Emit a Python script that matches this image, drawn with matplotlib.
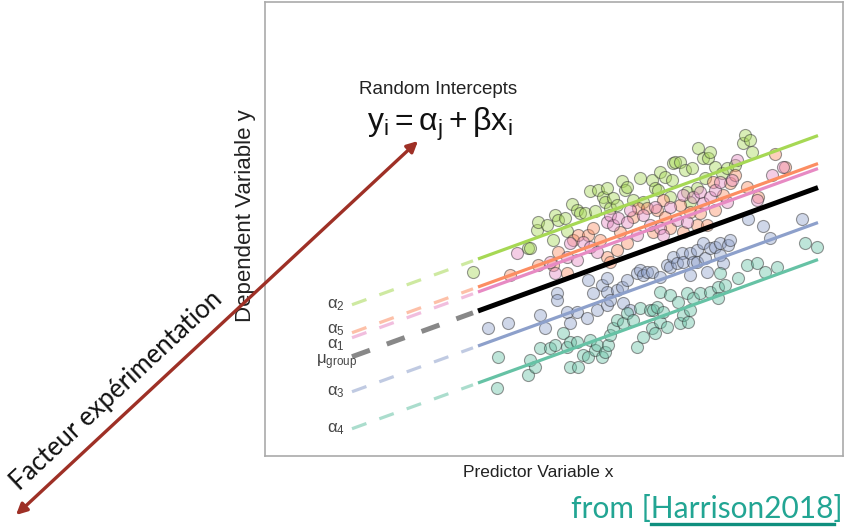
import numpy as np
import matplotlib
matplotlib.use("Agg")
import matplotlib.pyplot as plt

plt.rcParams['font.family'] = ['Liberation Sans', 'DejaVu Sans']
plt.rcParams['mathtext.fontset'] = 'custom'
plt.rcParams['mathtext.rm'] = 'Liberation Sans'
plt.rcParams['mathtext.it'] = 'Liberation Sans:italic'

# group intercepts and common slope (arbitrary units)
groups = ['a2', 'a5', 'a1', 'mu', 'a3', 'a4']
labels = [r'$\mathregular{\alpha_2}$', r'$\mathregular{\alpha_5}$', r'$\mathregular{\alpha_1}$',
          r'$\mathregular{\mu_{group}}$', r'$\mathregular{\alpha_3}$', r'$\mathregular{\alpha_4}$']
intercepts = [119.7, 91.7, 86.7, 67.7, 32.7, -4.3]
slope = 0.363
colors = ['#a6d854', '#fc8d62', '#e78ac3', '#000000', '#8da0cb', '#66c2a5']
x_dash = [87, 208]
x_solid = [213, 553]

# observations per group
pts_a2 = [(208,184),(263,208),(265,208),(272,226),(273,234),(282,231),(288,216),(290,241),(293,236),
          (300,238),(302,225),(307,252),(312,246),(315,243),(320,243),(325,265),(330,245),(333,266),
          (338,259),(340,254),(342,268),(345,248),(348,258),(352,251),(357,275),(360,266),(362,269),
          (368,256),(375,278),(378,254),(387,276),(390,268),(393,266),(395,284),(400,279),(405,259),
          (407,276),(408,293),(410,294),(415,294),(420,286),(422,264),(425,254),(427,288),(432,268),
          (433,308),(438,298),(440,278),(443,298),(445,304),(450,289),(457,283),(462,288),(470,291),
          (478,313),(480,321),(485,316),(487,304)]
band = [(245,181),(252,203),(273,191),(285,194),(288,191),(290,183),(293,204),(302,199),(302,183),
        (305,213),(308,216),(312,196),(313,221),(318,214),(323,221),(325,209),(328,228),(332,204),
        (335,216),(342,234),(342,199),(345,241),(345,194),(348,231),(352,206),(353,238),(355,224),
        (362,234),(362,213),(365,246),(368,239),(372,221),(373,248),(378,241),(382,248),(385,231),
        (388,224),(390,249),(392,246),(395,228),(398,256),(398,221),(400,239),(405,249),(405,228),
        (412,236),(415,251),(418,261),(418,224),(422,234),(425,244),(428,259),(432,231),(435,264),
        (435,243),(438,253),(442,231),(445,259),(448,274),(450,266),(450,246),(455,274),(458,261),
        (462,254),(465,273),(467,276),(470,281),(472,296),(482,269),(492,256),(493,259),(507,281),
        (510,302),(518,289),(520,289)]
pts_a5 = band[0::2]
pts_a1 = band[1::2]
pts_a3 = [(223,128),(243,133),(275,141),(280,128),(292,163),(292,156),(302,144),(305,133),(312,144),
          (322,138),(323,176),(328,163),(332,146),(337,171),(342,178),(342,164),(342,151),(345,156),
          (352,166),(357,169),(358,153),(362,176),(365,146),(372,183),(375,186),(378,181),(382,184),
          (387,184),(395,179),(402,191),(405,189),(408,199),(412,193),(417,203),(418,194),(425,203),
          (425,181),(428,194),(432,206),(432,194),(438,213),(440,198),(442,184),(445,208),(450,209),
          (455,213),(455,201),(458,193),(463,211),(465,216),(483,237),(498,230),(505,218),(537,237)]
pts_a4 = [(232,68),(233,99),(263,81),(265,96),(270,89),(275,108),(285,108),(290,111),(298,123),
          (302,109),(305,114),(305,89),(312,114),(313,89),(318,101),(323,99),(325,116),(330,106),
          (332,111),(337,99),(340,104),(343,111),(345,121),(348,128),(352,136),(358,133),(362,143),
          (368,136),(372,109),(375,148),(378,119),(385,146),(387,128),(388,146),(390,123),(392,149),
          (395,164),(395,134),(398,144),(402,129),(405,161),(413,154),(415,133),(418,141),(422,163),
          (423,134),(425,146),(428,158),(435,163),(445,164),(453,169),(453,158),(455,183),(460,171),
          (473,178),(482,191),(492,193),(500,184),(512,189),(540,213),(552,209)]
points = {'a2': pts_a2, 'a5': pts_a5, 'a1': pts_a1, 'a3': pts_a3, 'a4': pts_a4}

fig = plt.figure(figsize=(8.46, 5.27), dpi=100)
ax = fig.add_axes([265/846, 71/527, 578/846, 454/527])
ax.set_xlim(0, 578)
ax.set_ylim(0, 454)
ax.set_xticks([])
ax.set_yticks([])
for s in ax.spines.values():
    s.set_color('#aaaaaa')
    s.set_linewidth(1.2)

for g, c in zip(groups, colors):
    if g in points:
        p = np.array(points[g])
        ax.scatter(p[:, 0], p[:, 1], s=75, facecolor=matplotlib.colors.to_rgba(c, 0.42),
                   edgecolor=(0.2, 0.2, 0.2, 0.5), linewidth=0.8, zorder=2)

for g, lab, a, c in zip(groups, labels, intercepts, colors):
    xs = np.array(x_solid)
    xd = np.array(x_dash)
    if g == 'mu':
        ax.plot(xs, a + slope * xs, color='black', lw=3.6, zorder=3, solid_capstyle='butt')
        ax.plot(xd, a + slope * xd, color='#888888', lw=3.6, ls=(0, (3.8, 3.6)), zorder=3)
    else:
        ax.plot(xs, a + slope * xs, color=c, lw=2.3, zorder=3, solid_capstyle='butt')
        ax.plot(xd, a + slope * xd, color=c, lw=2.3, alpha=0.55, ls=(0, (4.8, 4.3)), zorder=3)
    off = {'a5': 3, 'a1': -7, 'mu': -5}.get(g, 0)
    ax.text(71, a + slope * x_dash[0] + off, lab, ha='center', va='center',
            fontsize=12, color='#444444')

ax.text(173, 366, 'Random Intercepts', ha='center', va='center', fontsize=13.5, color='#222222')
ax.text(175, 332, r'$\mathregular{y_i = \alpha_j + \beta x_i}$', ha='center', va='center',
        fontsize=23, color='#111111')
ax.text(-0.0346, 0.529, 'Dependent Variable y', transform=ax.transAxes, rotation=90,
        ha='center', va='center', fontsize=16, color='#222222')
ax.text(0.472, -0.037, 'Predictor Variable x', transform=ax.transAxes,
        ha='center', va='center', fontsize=12.5, color='#222222')

# red arrow across the left side
ax.annotate('', xy=(418, 386), xytext=(16, 12), xycoords='figure pixels', textcoords='figure pixels',
            arrowprops=dict(arrowstyle='<|-|>', color='#9e3026', lw=2.4, mutation_scale=16,
                            shrinkA=0, shrinkB=0), annotation_clip=False)
fig.text(117/846, (527-391)/527, 'Facteur expérimentation', rotation=43, rotation_mode='anchor',
         ha='center', va='center', fontsize=18.5, family=['Lato', 'DejaVu Sans'], color='#111111')

# source note with underlined reference
sfont = dict(fontsize=21.5, family=['Lato', 'DejaVu Sans'])
src = fig.text(843/846, (527-509)/527, 'from [Harrison2018]', ha='right', va='center',
               color='#22a593', **sfont)
fig.canvas.draw()
r = fig.canvas.get_renderer()
tail = fig.text(843/846, (527-509)/527, 'Harrison2018]', ha='right', va='center', alpha=0, **sfont)
close = fig.text(843/846, (527-509)/527, ']', ha='right', va='center', alpha=0, **sfont)
xa = tail.get_window_extent(r).x0
xb = close.get_window_extent(r).x0
tail.remove()
close.remove()
fig.add_artist(plt.Line2D([xa / 846, xb / 846], [(527-524)/527, (527-524)/527],
                          color='#0f8f7e', lw=2.4, transform=fig.transFigure))

fig.savefig('out.png', dpi=100)
